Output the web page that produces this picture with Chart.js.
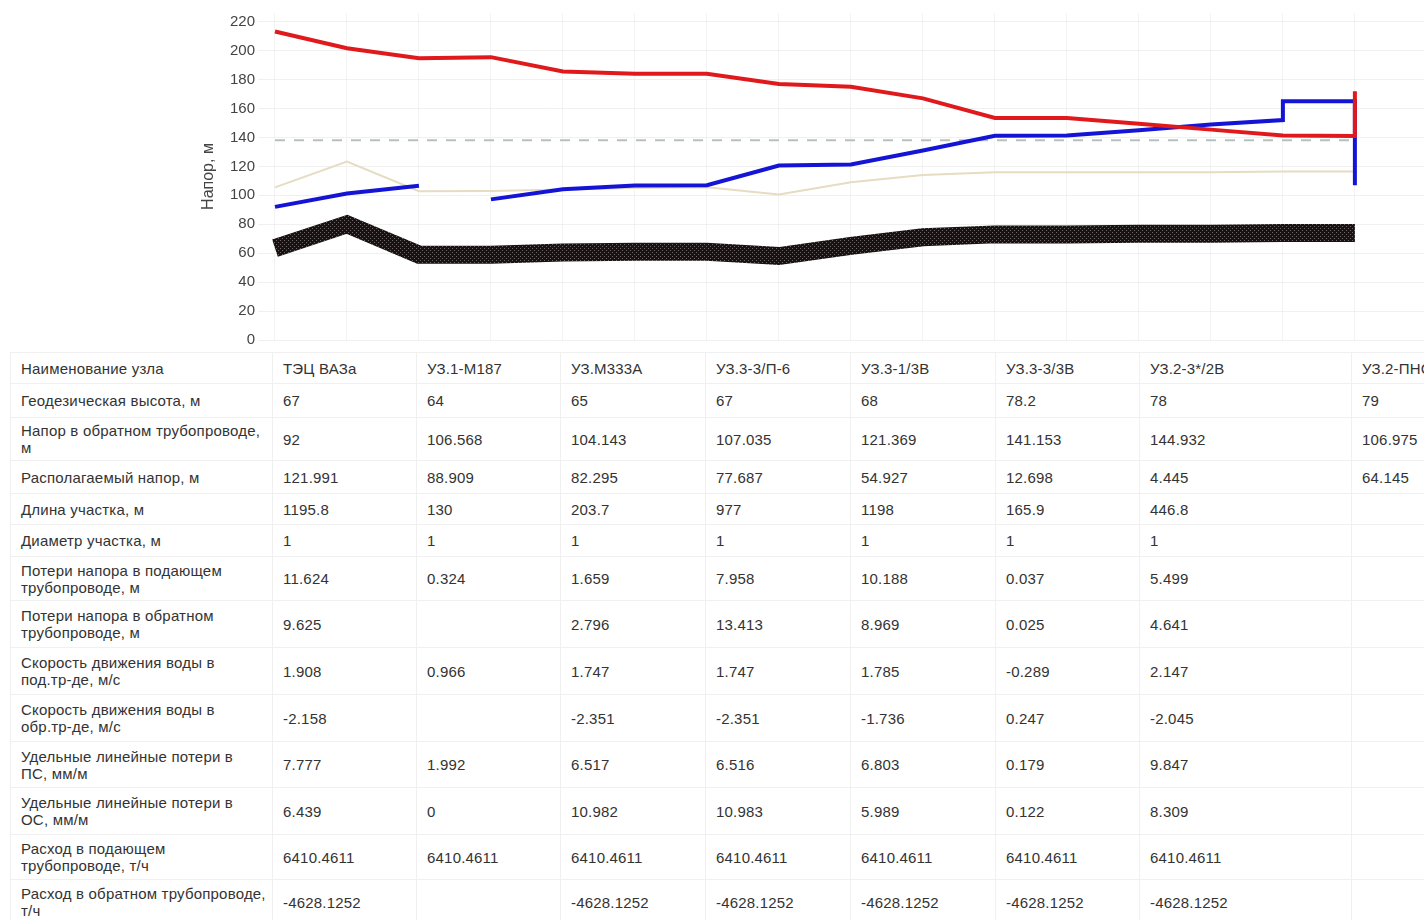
<!DOCTYPE html>
<html lang="ru">
<head>
<meta charset="utf-8">
<title>Пьезометрический график</title>
<script src="https://cdn.jsdelivr.net/npm/chart.js@4.4.1/dist/chart.umd.min.js"></script>
<style>
  html, body { margin: 0; padding: 0; background: #fff; overflow: hidden; }
  body { width: 1424px; height: 920px; position: relative; font-family: "Liberation Sans", Arial, sans-serif; }
  #chart { position: absolute; left: 0; top: 0; }
  #grid { position: absolute; left: 10px; top: 352px; border-collapse: collapse; table-layout: fixed;
          font-size: 15px; color: #333; letter-spacing: 0.2px; }
  #grid td { border: 1px solid #f0f0f0; padding: 0 10px; vertical-align: middle; white-space: pre;
             line-height: 17px; overflow: hidden; }
</style>
</head>
<body>
<canvas id="chart" width="1424" height="352"></canvas>
<table id="grid"></table>
<script>
// positions along the route (0..15), table nodes sit on every second one
const pointIndex = [0, 1, 2, 3, 4, 5, 6, 7, 8, 9, 10, 11, 12, 13, 14, 15];

// supply head (red), ends with a vertical rise at the last node
const supplyX = [0, 1, 2, 3, 4, 5, 6, 7, 8, 9, 10, 11, 12, 13, 14, 15, 15];
const supplyHead = [213.2, 201.7, 194.8, 195.5, 185.6, 184, 184, 177, 175, 167, 153.5, 153.5, 149.5, 145.4, 141.3, 141, 172];

// return head (blue), broken between 2 and 3, step up near the end
const returnX = [0, 1, 2, 2.5, 3, 4, 5, 6, 7, 8, 9, 10, 11, 12, 13, 14, 14, 15, 15];
const returnHead = [92, 101.3, 106.568, null, 97.2, 104.143, 106.8, 107.035, 120.6, 121.369, 131, 141.153, 141.3, 144.932, 149, 152, 165, 165, 106.975];

// static head (thin beige line)
const staticHead = [105.5, 123.4, 102.8, 103, 104, 105, 105.5, 100.5, 109, 114, 116, 116, 116, 116, 116.5, 116.5];

// dashed level line
const levelX = [0, 15];
const levelY = [138, 138];

// ground profile (thick hatched band)
const groundHead = [63.5, 80, 59, 59, 60.5, 61, 61, 58, 65, 71, 73, 73, 73.5, 73.5, 74, 74];

const yTicks = [0, 10, 20, 30, 40, 50, 60, 70, 80, 90, 100, 110, 120, 130, 140, 150, 160, 170, 180, 190, 200, 210, 220];

// table
const headerLabel = "Наименование узла";
const nodeNames = ["ТЭЦ ВАЗа", "УЗ.1-М187", "УЗ.М333А", "УЗ.3-3/П-6", "УЗ.3-1/3В", "УЗ.3-3/3В", "УЗ.2-3*/2В", "УЗ.2-ПНС"];
const geoHeight = ["67", "64", "65", "67", "68", "78.2", "78", "79"];
const returnPressure = ["92", "106.568", "104.143", "107.035", "121.369", "141.153", "144.932", "106.975"];
const availableHead = ["121.991", "88.909", "82.295", "77.687", "54.927", "12.698", "4.445", "64.145"];
const sectionLength = ["1195.8", "130", "203.7", "977", "1198", "165.9", "446.8", ""];
const sectionDiameter = ["1", "1", "1", "1", "1", "1", "1", ""];
const supplyLoss = ["11.624", "0.324", "1.659", "7.958", "10.188", "0.037", "5.499", ""];
const returnLoss = ["9.625", "", "2.796", "13.413", "8.969", "0.025", "4.641", ""];
const supplySpeed = ["1.908", "0.966", "1.747", "1.747", "1.785", "-0.289", "2.147", ""];
const returnSpeed = ["-2.158", "", "-2.351", "-2.351", "-1.736", "0.247", "-2.045", ""];
const supplySpecLoss = ["7.777", "1.992", "6.517", "6.516", "6.803", "0.179", "9.847", ""];
const returnSpecLoss = ["6.439", "0", "10.982", "10.983", "5.989", "0.122", "8.309", ""];
const supplyFlow = ["6410.4611", "6410.4611", "6410.4611", "6410.4611", "6410.4611", "6410.4611", "6410.4611", ""];
const returnFlow = ["-4628.1252", "", "-4628.1252", "-4628.1252", "-4628.1252", "-4628.1252", "-4628.1252", ""];

const tableRows = [
  [headerLabel, nodeNames],
  ["Геодезическая высота, м", geoHeight],
  ["Напор в обратном трубопроводе,\nм", returnPressure],
  ["Располагаемый напор, м", availableHead],
  ["Длина участка, м", sectionLength],
  ["Диаметр участка, м", sectionDiameter],
  ["Потери напора в подающем\nтрубопроводе, м", supplyLoss],
  ["Потери напора в обратном\nтрубопроводе, м", returnLoss],
  ["Скорость движения воды в\nпод.тр-де, м/с", supplySpeed],
  ["Скорость движения воды в\nобр.тр-де, м/с", returnSpeed],
  ["Удельные линейные потери в\nПС, мм/м", supplySpecLoss],
  ["Удельные линейные потери в\nОС, мм/м", returnSpecLoss],
  ["Расход в подающем\nтрубопроводе, т/ч", supplyFlow],
  ["Расход в обратном трубопроводе,\nт/ч", returnFlow]
];

const colWidths = [262, 144, 144, 145, 145, 145, 144, 212, 160];
const rowHeights = [31, 34, 43, 33, 31, 32, 44, 47, 47, 47, 46, 47, 45, 45];

function buildTable() {
  const table = document.getElementById("grid");
  const colgroup = document.createElement("colgroup");
  let total = 0;
  colWidths.forEach(w => {
    const col = document.createElement("col");
    col.style.width = w + "px";
    colgroup.appendChild(col);
    total += w;
  });
  table.style.width = total + "px";
  table.appendChild(colgroup);

  tableRows.forEach((row, i) => {
    const tr = document.createElement("tr");
    tr.style.height = rowHeights[i] + "px";
    const th = document.createElement("td");
    th.textContent = row[0];
    tr.appendChild(th);
    row[1].forEach(v => {
      const td = document.createElement("td");
      td.textContent = v;
      tr.appendChild(td);
    });
    table.appendChild(tr);
  });
}

function makeGroundPattern() {
  const c = document.createElement("canvas");
  c.width = 4;
  c.height = 4;
  const g = c.getContext("2d");
  g.fillStyle = "#181212";
  g.fillRect(0, 0, 4, 4);
  g.fillStyle = "#6e6868";
  g.fillRect(0, 0, 1, 1);
  g.fillRect(2, 2, 1, 1);
  return g.createPattern(c, "repeat");
}

function toPoints(xs, ys) {
  return xs.map((x, i) => ({ x: x, y: ys[i] }));
}

buildTable();

const ctx = document.getElementById("chart").getContext("2d");

new Chart(ctx, {
  type: "line",
  data: {
    datasets: [
      {
        label: "Напор в подающем",
        data: toPoints(supplyX, supplyHead),
        borderColor: "#e01a1c",
        borderWidth: 4,
      },
      {
        label: "Напор в обратном",
        data: toPoints(returnX, returnHead),
        borderColor: "#1414d6",
        borderWidth: 4,
        spanGaps: false,
      },
      {
        label: "Статический напор",
        data: toPoints(pointIndex, staticHead),
        borderColor: "#e6dcc2",
        borderWidth: 2,
      },
      {
        label: "Уровень",
        data: toPoints(levelX, levelY),
        borderColor: "#b6c0c0",
        borderWidth: 2,
        borderDash: [10, 9],
      },
      {
        label: "Геодезическая высота",
        data: toPoints(pointIndex, groundHead),
        borderColor: makeGroundPattern(),
        borderWidth: 18,
        borderJoinStyle: "miter",
      },
    ],
  },
  options: {
    responsive: false,
    animation: false,
    events: [],
    layout: { padding: { left: 195, right: 0, top: 13, bottom: 11 } },
    elements: { point: { radius: 0 }, line: { tension: 0, fill: false } },
    plugins: { legend: { display: false }, tooltip: { enabled: false } },
    scales: {
      x: {
        type: "linear",
        min: -0.236,
        max: 15.96,
        afterBuildTicks: (scale) => {
          scale.ticks = pointIndex.map(v => ({ value: v }));
        },
        afterFit: (scale) => { scale.height = 0; },
        ticks: { display: false },
        grid: { color: "#f3f3f3", drawTicks: false },
        border: { display: false },
      },
      y: {
        type: "linear",
        min: 0,
        max: 226,
        afterBuildTicks: (scale) => {
          scale.ticks = yTicks.map(v => ({ value: v }));
        },
        afterFit: (scale) => { scale.width = 63; },
        ticks: {
          padding: 3,
          color: "#444",
          font: { family: "'Liberation Sans', Arial, sans-serif", size: 15 },
          callback: (v) => (v % 20 === 0 ? v : ""),
        },
        grid: { color: "#f0f0f0", drawTicks: false },
        border: { display: false },
        title: {
          display: true,
          text: "Напор, м",
          color: "#444",
          font: { family: "'Liberation Sans', Arial, sans-serif", size: 16 },
        },
      },
    },
  },
});
</script>
</body>
</html>
